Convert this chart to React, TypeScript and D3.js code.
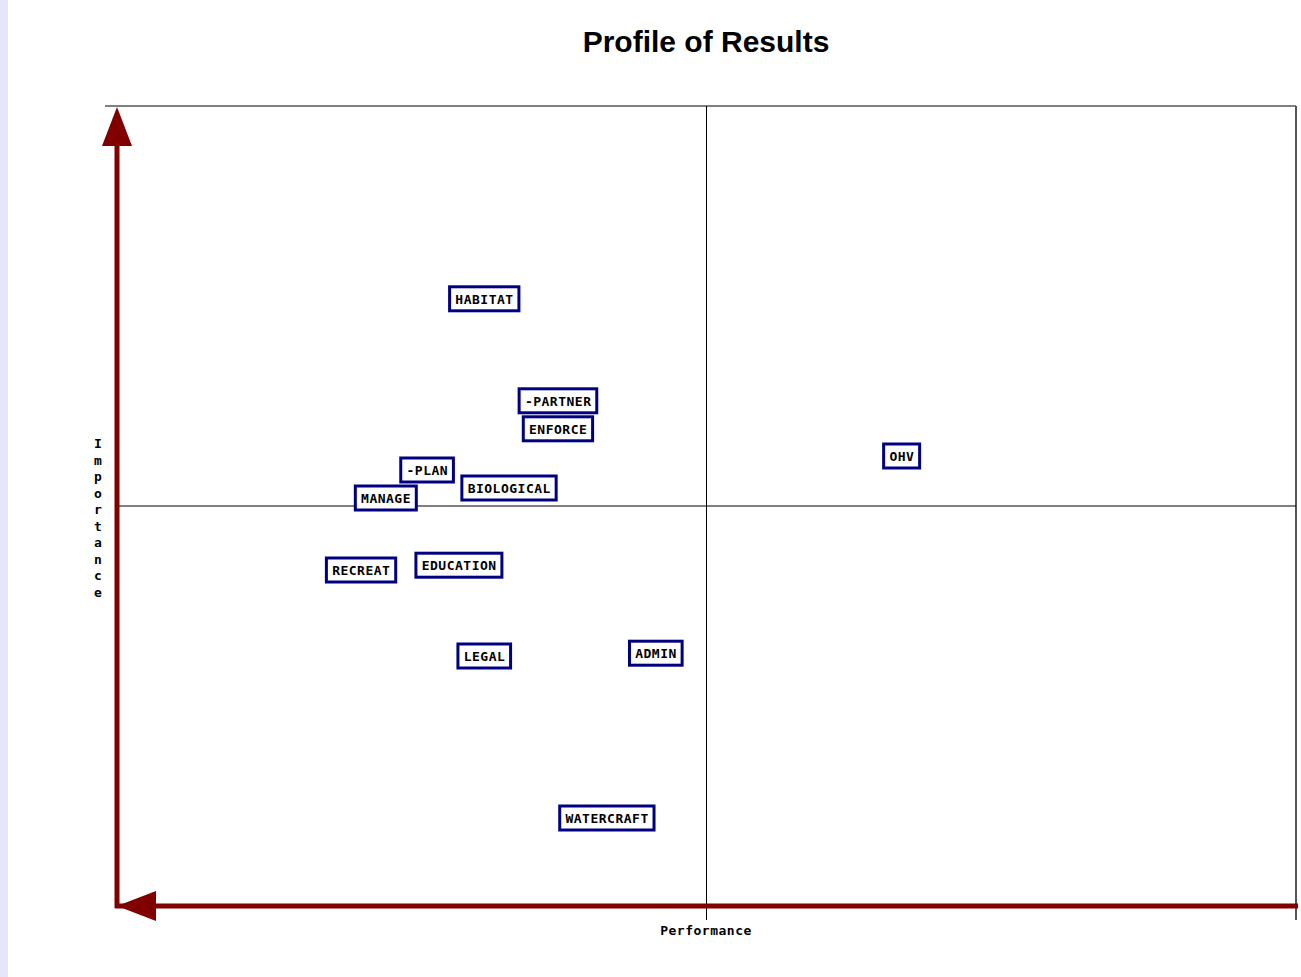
import React from "react";
import * as d3 from "d3";

const labels = ["HABITAT", "-PARTNER", "ENFORCE", "-PLAN", "MANAGE", "BIOLOGICAL", "RECREAT", "EDUCATION", "LEGAL", "ADMIN", "WATERCRAFT", "OHV"];
const performance = [-0.377, -0.252, -0.252, -0.474, -0.544, -0.335, -0.586, -0.42, -0.377, -0.086, -0.169, 0.331];
const importance = [0.518, 0.263, 0.193, 0.09, 0.02, 0.045, -0.16, -0.148, -0.375, -0.368, -0.78, 0.125];

const W = 1301, H = 977;
const left = 117, right = 1296, top = 106, bottom = 906;

export default function App() {
  const x = d3.scaleLinear().domain([-1, 1]).range([left, right]);
  const y = d3.scaleLinear().domain([-1, 1]).range([bottom, top]);
  const mono = "'DejaVu Sans Mono', monospace";
  const red = "#800000";
  const navy = "#000080";
  const charW = 8.33;
  const yLetters = "Importance".split("");
  return (
    <svg width={W} height={H} style={{ position: "absolute", left: 0, top: 0, background: "#fff" }}>
      <rect x={0} y={0} width={8} height={H} fill="#e6e6fa" />
      <text x={706} y={52} textAnchor="middle" fontFamily="'Liberation Sans', Arial, sans-serif" fontWeight="bold" fontSize={30} fill="#000">Profile of Results</text>
      {/* frame */}
      <line x1={105} x2={right} y1={top} y2={top} stroke="#000" strokeWidth={1} />
      <line x1={right} x2={right} y1={top} y2={920} stroke="#555" strokeWidth={2} />
      <line x1={x(0)} x2={x(0)} y1={top} y2={920} stroke="#000" strokeWidth={1} />
      <line x1={118} x2={right} y1={y(0)} y2={y(0)} stroke="#000" strokeWidth={1} />
      {/* arrows */}
      <line x1={left} x2={left} y1={bottom + 2} y2={140} stroke={red} strokeWidth={5} />
      <path d={`M${left},${top + 1} L${left - 15},${146} L${left + 15},${146} Z`} fill={red} />
      <line x1={left - 2} x2={right + 2} y1={bottom} y2={bottom} stroke={red} strokeWidth={5} />
      <path d={`M${left},${bottom} L${156},${bottom - 15} L${156},${bottom + 15} Z`} fill={red} />
      {/* axis labels */}
      <text x={706} y={935} textAnchor="middle" fontFamily={mono} fontWeight="bold" fontSize={13} letterSpacing={0.5} fill="#000">Performance</text>
      {yLetters.map((c, i) => (
        <text key={i} x={98} y={448 + i * 16.5} textAnchor="middle" fontFamily={mono} fontWeight="bold" fontSize={13} fill="#000">{c}</text>
      ))}
      {labels.map((lab, i) => {
        const cx = x(performance[i]);
        const cy = y(importance[i]);
        const bw = lab.length * charW + 11;
        const bh = 24;
        return (
          <g key={lab}>
            <rect x={cx - bw / 2} y={cy - bh / 2} width={bw} height={bh} fill="#fff" stroke={navy} strokeWidth={3} />
            <text x={cx + 0.25} y={cy + 4.8} textAnchor="middle" fontFamily={mono} fontWeight="bold" fontSize={13} letterSpacing={0.5} fill="#000">{lab}</text>
          </g>
        );
      })}
    </svg>
  );
}
